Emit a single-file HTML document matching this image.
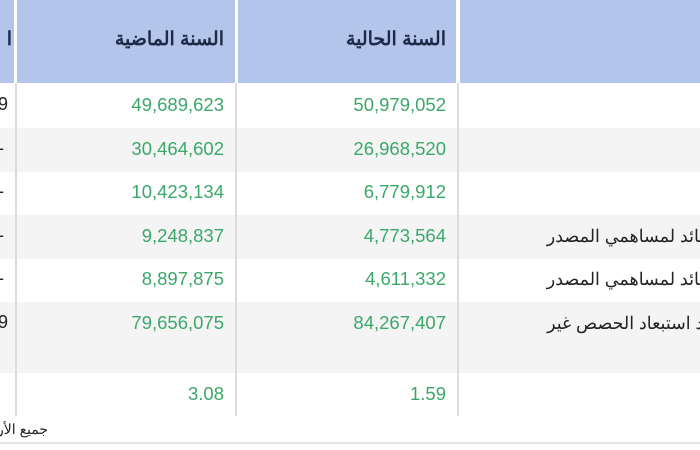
<!DOCTYPE html>
<html><head><meta charset="utf-8"><style>
body{margin:0;width:700px;height:450px;overflow:hidden;background:#fff;position:relative;font-family:"Liberation Sans","Noto Sans CJK SC",sans-serif}
.a{position:absolute}
.hd{background:#b3c5ea;top:0;height:83px}
.ht{color:#1e2a48;font-size:19px;font-weight:bold;top:28px;text-align:right}
.g{background:#f4f4f4;left:0;width:700px}
.n{color:#3ba86a;font-size:18.5px;text-align:right;width:200px}
.v{background:#dcdcdc;width:2px;top:83px;height:333px}
.l{color:#222;font-size:17.5px;white-space:nowrap;right:-18px;text-align:right}
</style></head><body>
<div class="a hd" style="left:0;width:14px"></div>
<div class="a hd" style="left:17px;width:218px"></div>
<div class="a hd" style="left:238px;width:218px"></div>
<div class="a hd" style="left:460px;width:240px"></div>
<div class="a ht" style="left:0;width:12px;overflow:hidden">ا</div>
<div class="a ht" style="left:24px;width:200px">السنة الماضية</div>
<div class="a ht" style="left:246px;width:200px">السنة الحالية</div>
<div class="a g" style="top:128px;height:44px"></div>
<div class="a g" style="top:215px;height:44px"></div>
<div class="a g" style="top:302px;height:71px"></div>
<div class="a v" style="left:15px"></div>
<div class="a v" style="left:235px"></div>
<div class="a v" style="left:457px"></div>
<div class="a n" style="left:24px;top:94px">49,689,623</div>
<div class="a n" style="left:246px;top:94px">50,979,052</div>
<div class="a n" style="left:24px;top:138px">30,464,602</div>
<div class="a n" style="left:246px;top:138px">26,968,520</div>
<div class="a n" style="left:24px;top:181px">10,423,134</div>
<div class="a n" style="left:246px;top:181px">6,779,912</div>
<div class="a n" style="left:24px;top:225px">9,248,837</div>
<div class="a n" style="left:246px;top:225px">4,773,564</div>
<div class="a n" style="left:24px;top:268px">8,897,875</div>
<div class="a n" style="left:246px;top:268px">4,611,332</div>
<div class="a n" style="left:24px;top:312px">79,656,075</div>
<div class="a n" style="left:246px;top:312px">84,267,407</div>
<div class="a n" style="left:24px;top:383px">3.08</div>
<div class="a n" style="left:246px;top:383px">1.59</div>
<div class="a" style="left:-2px;top:94px;font-size:18px;color:#222">9</div>
<div class="a" style="left:-2px;top:138px;font-size:18px;color:#222">-</div>
<div class="a" style="left:-2px;top:181px;font-size:18px;color:#222">-</div>
<div class="a" style="left:-2px;top:225px;font-size:18px;color:#222">-</div>
<div class="a" style="left:-2px;top:268px;font-size:18px;color:#222">-</div>
<div class="a" style="left:-2px;top:312px;font-size:18px;color:#222">9</div>
<div class="a l" style="top:226px" dir="rtl">العائد لمساهمي المصدر</div>
<div class="a l" style="top:269px" dir="rtl">العائد لمساهمي المصدر</div>
<div class="a l" style="top:313px" dir="rtl">بعد استبعاد الحصص غير</div>
<div class="a" style="left:0;top:421px;font-size:14px;color:#222;white-space:nowrap;width:48px;overflow:hidden;direction:rtl">جميع الأرقام</div>
<div class="a" style="left:0;top:442px;width:700px;height:2px;background:#e6e6e6"></div>
</body></html>
